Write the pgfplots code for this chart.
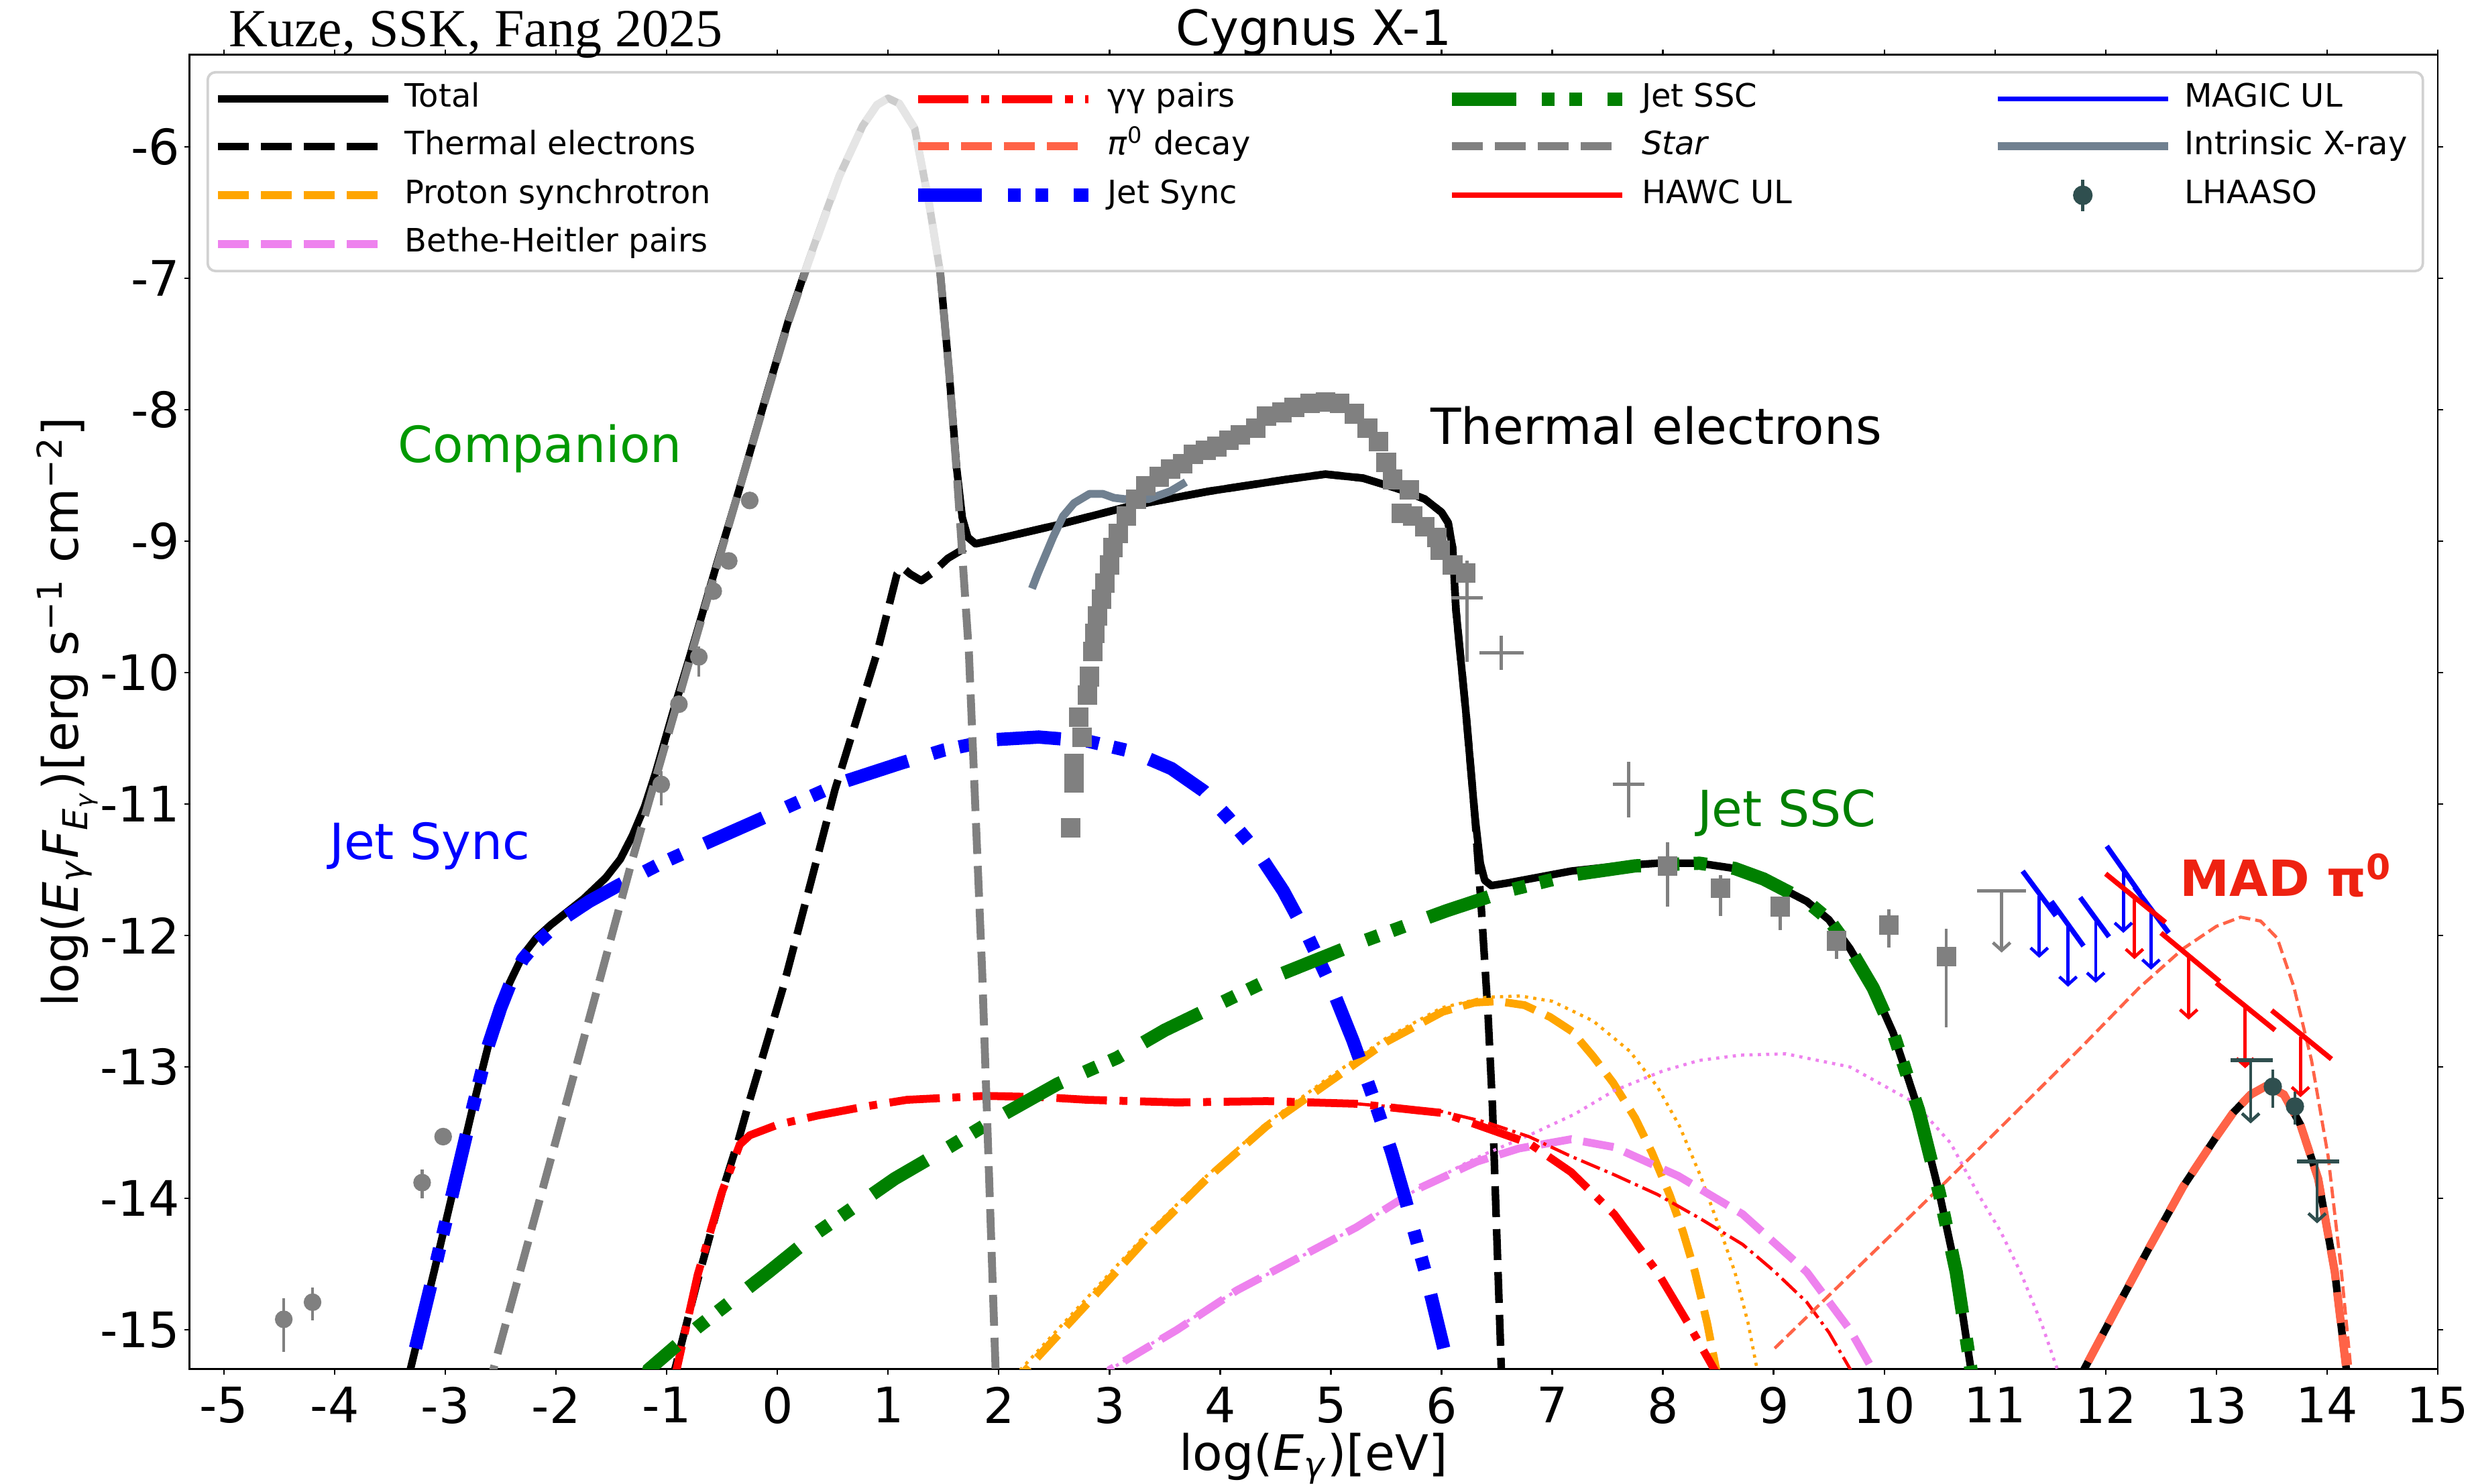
\documentclass[border=0pt]{standalone}
\usepackage{fontspec}
\setmainfont{DejaVu Sans}
\newfontfamily\kuzefont{Liberation Serif}
\usepackage{pgfplots}
\pgfplotsset{compat=1.18}
\usetikzlibrary{arrows.meta}
\definecolor{cTomato}{HTML}{FF6347}
\definecolor{cOrange}{HTML}{FFA500}
\definecolor{cViolet}{HTML}{EE82EE}
\definecolor{cGreen}{HTML}{008000}
\definecolor{cGray}{HTML}{808080}
\definecolor{cSlate}{HTML}{708090}
\definecolor{cDSlate}{HTML}{2F4F4F}
\definecolor{cComp}{HTML}{009900}
\definecolor{cMAD}{HTML}{EE2211}
\definecolor{cRed}{HTML}{FF0000}
\definecolor{cBlue}{HTML}{0000FF}
\tikzset{
  sTotal/.style={black, line width=2.4pt, line join=round},
  sTherm/.style={black, line width=2.4pt, line join=round, dash pattern=on 9.8pt off 3.8pt},
  sProton/.style={cOrange, line width=2.5pt, dash pattern=on 9.8pt off 3.8pt},
  sBH/.style={cViolet, line width=2.5pt, dash pattern=on 9.8pt off 3.8pt},
  sGG/.style={cRed, line width=2.5pt, dash pattern=on 16pt off 4pt on 2.5pt off 4pt},
  sPi/.style={cTomato, line width=2.6pt, dash pattern=on 9.8pt off 3.8pt},
  sJS/.style={cBlue, line width=4.2pt, dash pattern=on 20.3pt off 8.1pt on 4.1pt off 4.6pt on 4.1pt off 8.1pt},
  sSSC/.style={cGreen, line width=4.2pt, dash pattern=on 20.3pt off 8.1pt on 4.1pt off 4.6pt on 4.1pt off 8.1pt},
  sStar/.style={cGray, line width=2.5pt, dash pattern=on 9.8pt off 3.8pt},
  sHAWC/.style={cRed, line width=1.6pt},
  sMAGIC/.style={cBlue, line width=1.6pt},
  sXray/.style={cSlate, line width=2.5pt, line join=round},
  thinPi/.style={cTomato, line width=1pt, dash pattern=on 3.7pt off 1.6pt},
  thinOr/.style={cOrange, line width=1pt, dash pattern=on 1pt off 1.65pt},
  thinVi/.style={cViolet, line width=1pt, dash pattern=on 1pt off 1.65pt},
  thinGG/.style={cRed, line width=1pt, dash pattern=on 6.4pt off 1.6pt on 1pt off 1.6pt},
  arr/.style={-{Straight Barb[length=2.5pt,width=5.5pt]}, line width=1.0pt},
}
\begin{document}
\begin{tikzpicture}
\begin{axis}[name=ax, scale only axis, width=712.3pt, height=416.5pt,
  xmin=-5.31, xmax=15, ymin=-15.30, ymax=-5.30,
  xtick={-5,-4,-3,-2,-1,0,1,2,3,4,5,6,7,8,9,10,11,12,13,14,15},
  xticklabels={-5,-4,-3,-2,-1,0,1,2,3,4,5,6,7,8,9,10,11,12,13,14,15},
  ytick={-15,-14,-13,-12,-11,-10,-9,-8,-7,-6},
  yticklabels={-15,-14,-13,-12,-11,-10,-9,-8,-7,-6},
  tick align=outside, major tick length=1.7pt,
  tick style={black, line width=0.5pt},
  axis line style={line width=0.6pt},
  ticklabel style={font=\fontsize{15.5}{18}\selectfont},
  xticklabel style={inner sep=0pt, anchor=north, yshift=-3.8pt},
  yticklabel style={inner sep=0pt, anchor=east, xshift=-1.2pt},
  every axis x label/.style={at={(rel axis cs:0.5,0)}, anchor=base, yshift=-32pt, font=\fontsize{15.5}{18}\selectfont},
  every axis y label/.style={at={(rel axis cs:0,0.5)}, xshift=-35.3pt, rotate=90, anchor=base, font=\fontsize{15.5}{18}\selectfont},
  xlabel={log(\textit{E}\textsubscript{\textit{γ}})[eV]},
  ylabel={log(\textit{E}\textsubscript{\textit{γ}}\textit{F}\textsubscript{\textit{E}\textsubscript{\textit{γ}}})[erg s\textsuperscript{−1} cm\textsuperscript{−2}]},
  title={Cygnus X-1},
  every axis title/.style={at={(rel axis cs:0.5,1)}, anchor=base, yshift=3pt, font=\fontsize{15.4}{18}\selectfont},
  legend columns=4,
  legend cell align=left,
  legend image code/.code={\draw[#1] (0pt,0pt) -- (54pt,0pt);},
  legend style={at={(rel axis cs:0,1)}, anchor=north west, xshift=5.3pt, yshift=-5.1pt,
    fill=white, fill opacity=0.8, draw opacity=1, text opacity=1, draw=black!18, line width=0.8pt,
    rounded corners=2.5pt, inner xsep=2pt, inner ysep=3.5pt, row sep=5pt,
    font=\fontsize{10.2}{12}\selectfont,
    nodes={inner sep=0pt, text height=7.5pt, text depth=2.5pt},
    /tikz/every odd column/.append style={column sep=4pt}},
  unbounded coords=jump,
]
% ---------------- Total ----------------
\addplot[sTotal, forget plot] coordinates {(-3.36,-15.45) (-3.31,-15.28) (-3.10,-14.55) (-2.89,-13.80) (-2.75,-13.30) (-2.61,-12.83) (-2.50,-12.55) (-2.42,-12.36) (-2.30,-12.15) (-2.18,-12.02) (-2.05,-11.92) (-1.93,-11.84) (-1.75,-11.72) (-1.55,-11.56) (-1.42,-11.42) (-1.31,-11.24) (-1.20,-11.02) (-1.10,-10.76) (-0.94,-10.29) (-0.80,-9.90) (-0.73,-9.70) (-0.55,-9.18) (-0.35,-8.62) (-0.09,-7.86) (0.10,-7.32) (0.28,-6.87) (0.45,-6.47) (0.56,-6.22) (0.77,-5.84) (0.90,-5.68) (1.00,-5.63) (1.10,-5.67) (1.24,-5.86) (1.37,-6.43) (1.47,-6.95) (1.55,-7.70) (1.62,-8.45) (1.67,-8.82) (1.72,-8.97) (1.79,-9.02) (2.00,-8.98) (2.51,-8.88) (3.20,-8.73) (3.90,-8.62) (4.60,-8.53) (4.95,-8.49) (5.29,-8.52) (5.64,-8.61) (5.85,-8.68) (6.00,-8.78) (6.06,-8.86) (6.10,-9.05) (6.13,-9.52) (6.22,-10.30) (6.30,-11.08) (6.35,-11.45) (6.39,-11.58) (6.45,-11.62) (6.60,-11.60) (7.17,-11.51) (7.60,-11.47) (7.95,-11.45) (8.33,-11.45) (8.65,-11.49) (8.91,-11.57) (9.30,-11.74) (9.50,-11.88) (9.69,-12.10) (9.90,-12.40) (10.08,-12.74) (10.31,-13.33) (10.50,-13.97) (10.65,-14.56) (10.79,-15.34) (10.83,-15.50)};
\addplot[sTotal, forget plot] coordinates {(11.72,-15.55) (11.78,-15.34) (12.09,-14.85) (12.39,-14.38) (12.70,-13.91) (13.00,-13.53) (13.15,-13.35) (13.31,-13.21) (13.46,-13.14) (13.61,-13.21) (13.76,-13.44) (13.92,-13.85) (14.07,-14.56) (14.18,-15.34) (14.22,-15.55)};
% ---------------- Thermal electrons ----------------
\addplot[sTherm, forget plot] coordinates {(-0.97,-15.45) (-0.92,-15.28) (-0.72,-14.62) (-0.50,-13.95) (-0.35,-13.55) (-0.26,-13.28) (0.05,-12.40) (0.30,-11.60) (0.52,-10.89) (0.90,-9.85) (1.02,-9.45) (1.08,-9.25) (1.13,-9.20) (1.20,-9.25) (1.30,-9.30) (1.40,-9.24) (1.54,-9.13) (1.70,-9.05) (1.79,-9.02) (2.00,-8.98) (2.51,-8.88) (3.20,-8.73) (3.90,-8.62) (4.60,-8.53) (4.95,-8.49) (5.29,-8.52) (5.64,-8.61) (5.85,-8.68) (6.00,-8.78) (6.06,-8.86) (6.10,-9.05) (6.13,-9.52) (6.22,-10.30) (6.30,-11.08) (6.36,-11.80) (6.42,-12.60) (6.46,-13.30) (6.50,-14.30) (6.54,-15.30) (6.55,-15.50)};
% ---------------- Proton synchrotron ----------------
\addplot[sProton, forget plot] coordinates {(2.18,-15.5) (2.25,-15.3) (2.80,-14.80) (3.34,-14.30) (3.88,-13.85) (4.42,-13.45) (4.96,-13.13) (5.50,-12.81) (6.01,-12.58) (6.30,-12.51) (6.51,-12.50) (6.75,-12.53) (6.98,-12.62) (7.18,-12.73) (7.37,-12.92) (7.55,-13.12) (7.75,-13.39) (7.90,-13.65) (8.06,-13.97) (8.18,-14.25) (8.29,-14.56) (8.40,-14.95) (8.49,-15.34) (8.52,-15.5)};
\addplot[thinOr, forget plot] coordinates {(2.18,-15.5) (2.20,-15.3) (2.75,-14.80) (3.30,-14.30) (3.85,-13.85) (4.40,-13.44) (4.95,-13.10) (5.50,-12.78) (6.00,-12.55) (6.40,-12.47) (6.71,-12.46) (7.00,-12.50) (7.37,-12.65) (7.70,-12.88) (7.95,-13.15) (8.15,-13.45) (8.34,-13.83) (8.50,-14.20) (8.65,-14.56) (8.77,-14.95) (8.86,-15.34) (8.90,-15.5)};
% ---------------- Bethe-Heitler ----------------
\addplot[sBH, forget plot] coordinates {(2.95,-15.5) (3.01,-15.3) (3.61,-15.0) (4.15,-14.70) (4.69,-14.46) (5.23,-14.22) (5.78,-13.93) (6.32,-13.72) (6.70,-13.62) (7.17,-13.55) (7.56,-13.61) (8.14,-13.83) (8.72,-14.12) (9.30,-14.56) (9.69,-15.0) (9.92,-15.34) (9.96,-15.5)};
\addplot[thinVi, forget plot] coordinates {(2.95,-15.5) (3.01,-15.3) (4.15,-14.70) (5.23,-14.22) (5.78,-13.93) (6.20,-13.74) (6.40,-13.66) (6.79,-13.52) (7.20,-13.36) (7.56,-13.18) (8.00,-13.03) (8.33,-12.95) (8.70,-12.91) (9.11,-12.90) (9.69,-13.00) (10.27,-13.27) (10.60,-13.58) (10.85,-13.97) (11.05,-14.25) (11.23,-14.56) (11.42,-14.95) (11.58,-15.34) (11.62,-15.5)};
% ---------------- gamma gamma pairs ----------------
\addplot[sGG, forget plot] coordinates {(-0.96,-15.5) (-0.91,-15.3) (-0.72,-14.58) (-0.50,-13.95) (-0.34,-13.59) (-0.25,-13.52) (0.00,-13.44) (0.36,-13.37) (0.80,-13.30) (1.17,-13.25) (1.88,-13.22) (2.40,-13.23) (2.80,-13.25) (3.61,-13.27) (4.42,-13.26) (5.23,-13.28) (5.78,-13.33) (6.01,-13.35) (6.32,-13.44) (6.79,-13.58) (7.17,-13.80) (7.56,-14.12) (7.95,-14.56) (8.22,-14.94) (8.49,-15.34) (8.52,-15.5)};
\addplot[thinGG, forget plot] coordinates {(5.23,-13.28) (5.78,-13.32) (6.01,-13.34) (6.40,-13.42) (6.79,-13.53) (7.17,-13.68) (7.56,-13.82) (7.95,-13.97) (8.33,-14.15) (8.72,-14.35) (9.00,-14.55) (9.30,-14.79) (9.50,-15.02) (9.72,-15.34) (9.76,-15.5)};
% ---------------- pi0 decay ----------------
\addplot[thinPi, forget plot] coordinates {(9.01,-15.14) (10.56,-13.87) (11.78,-12.85) (12.30,-12.40) (12.70,-12.10) (13.00,-11.93) (13.22,-11.86) (13.40,-11.89) (13.55,-12.02) (13.70,-12.39) (13.86,-12.95) (14.01,-13.68) (14.13,-14.56) (14.22,-15.34) (14.24,-15.5)};
\addplot[sPi, forget plot] coordinates {(11.72,-15.55) (11.78,-15.34) (12.09,-14.85) (12.39,-14.38) (12.70,-13.91) (13.00,-13.53) (13.15,-13.35) (13.31,-13.21) (13.46,-13.14) (13.61,-13.21) (13.76,-13.44) (13.92,-13.85) (14.07,-14.56) (14.18,-15.34) (14.22,-15.55)};
% ---------------- Jet Sync ----------------
\addplot[sJS, forget plot] coordinates {(-3.27,-15.14) (-3.10,-14.55) (-2.89,-13.80) (-2.75,-13.30) (-2.61,-12.83) (-2.50,-12.55) (-2.42,-12.38) (-2.30,-12.18) (-2.18,-12.06) (-1.95,-11.88) (-1.70,-11.74) (-1.44,-11.62) (-1.05,-11.45) (-0.68,-11.31) (-0.17,-11.12) (0.20,-10.98) (0.60,-10.83) (1.11,-10.69) (1.50,-10.59) (1.96,-10.51) (2.36,-10.49) (2.80,-10.52) (3.20,-10.60) (3.56,-10.73) (3.85,-10.90) (4.07,-11.10) (4.35,-11.38) (4.57,-11.66) (4.80,-12.02) (5.00,-12.38) (5.20,-12.80) (5.39,-13.25) (5.55,-13.65) (5.67,-14.00) (5.85,-14.55) (6.02,-15.14)};
% ---------------- Jet SSC ----------------
\addplot[sSSC, forget plot] coordinates {(-1.22,-15.5) (-1.16,-15.3) (-0.72,-14.98) (-0.08,-14.56) (0.36,-14.26) (1.06,-13.85) (1.55,-13.61) (1.98,-13.39) (2.53,-13.13) (3.07,-12.93) (3.50,-12.72) (3.99,-12.52) (4.53,-12.30) (5.27,-12.05) (6.05,-11.81) (6.59,-11.66) (7.17,-11.54) (7.75,-11.47) (8.33,-11.45) (8.65,-11.49) (8.91,-11.57) (9.30,-11.74) (9.50,-11.88) (9.69,-12.10) (9.90,-12.40) (10.08,-12.74) (10.31,-13.33) (10.50,-13.97) (10.65,-14.56) (10.79,-15.34) (10.83,-15.5)};
% ---------------- Star ----------------
\addplot[sStar, forget plot] coordinates {(-2.62,-15.5) (-2.56,-15.28) (-2.20,-14.17) (-1.78,-12.88) (-1.31,-11.42) (-0.73,-9.72) (-0.35,-8.62) (-0.09,-7.87) (0.10,-7.33) (0.28,-6.88) (0.45,-6.48) (0.56,-6.22) (0.77,-5.84) (0.90,-5.68) (1.00,-5.63) (1.10,-5.67) (1.24,-5.86) (1.37,-6.43) (1.47,-6.95) (1.55,-7.70) (1.62,-8.48) (1.73,-9.85) (1.85,-12.28) (1.97,-15.28) (1.98,-15.5)};
% ---------------- Intrinsic X-ray ----------------
\addplot[sXray, forget plot] coordinates {(2.30,-9.36) (2.35,-9.25) (2.40,-9.15) (2.49,-8.97) (2.58,-8.81) (2.68,-8.71) (2.82,-8.64) (2.94,-8.64) (3.04,-8.67) (3.14,-8.68) (3.35,-8.68) (3.45,-8.65) (3.55,-8.62) (3.69,-8.55)};
% ---------------- X-ray data (squares) ----------------
\addplot[only marks, mark=square*, mark size=2.9pt, color=cGray, forget plot] coordinates {(2.65,-11.18) (2.68,-10.84) (2.68,-10.69) (2.75,-10.49) (2.72,-10.34) (2.80,-10.17) (2.82,-10.03) (2.85,-9.84) (2.87,-9.70) (2.89,-9.57) (2.93,-9.44) (2.96,-9.32) (3.00,-9.18) (3.03,-9.05) (3.08,-8.94) (3.15,-8.81) (3.24,-8.68) (3.33,-8.58) (3.45,-8.51) (3.55,-8.45) (3.66,-8.41) (3.76,-8.34) (3.87,-8.31) (3.97,-8.28) (4.08,-8.23) (4.18,-8.19) (4.32,-8.14) (4.42,-8.05) (4.56,-8.02) (4.67,-7.98) (4.81,-7.95) (4.95,-7.94) (5.08,-7.95) (5.21,-8.03) (5.33,-8.14) (5.43,-8.24) (5.50,-8.40) (5.56,-8.53) (5.71,-8.61) (5.64,-8.79) (5.74,-8.81) (5.85,-8.89) (5.96,-8.97) (5.99,-9.07) (6.10,-9.18) (6.22,-9.24)};
% ---------------- low energy data (circles) ----------------
\addplot[only marks, mark=*, mark size=2.6pt, color=cGray, forget plot,
  error bars/.cd, y dir=both, y explicit, error mark=none, error bar style={line width=1pt, cGray}] coordinates {
  (-4.46,-14.92) += (0,0.16) -= (0,0.25)
  (-4.20,-14.79) += (0,0.11) -= (0,0.14)
  (-3.21,-13.88) += (0,0.10) -= (0,0.12)
  (-3.02,-13.53) += (0,0.03) -= (0,0.03)
  (-1.05,-10.85) += (0,0.10) -= (0,0.16)
  (-0.89,-10.24) += (0,0.04) -= (0,0.04)
  (-0.71,-9.88) += (0,0.08) -= (0,0.15)
  (-0.58,-9.38) += (0,0.04) -= (0,0.04)
  (-0.44,-9.15) += (0,0.04) -= (0,0.04)
  (-0.25,-8.69) += (0,0.04) -= (0,0.04)};
% ---------------- high energy data (squares with bars) ----------------
\addplot[only marks, mark=square*, mark size=2.9pt, color=cGray, forget plot,
  error bars/.cd, y dir=both, y explicit, error mark=none, error bar style={line width=1pt, cGray}] coordinates {
  (8.04,-11.47) += (0,0.18) -= (0,0.31)
  (8.52,-11.64) += (0,0.10) -= (0,0.21)
  (9.06,-11.78) += (0,0.07) -= (0,0.18)
  (9.57,-12.04) += (0,0.07) -= (0,0.14)
  (10.04,-11.92) += (0,0.12) -= (0,0.17)
  (10.56,-12.16) += (0,0.21) -= (0,0.54)};
% crosses and gray UL bar
\addplot[cGray, line width=1pt, forget plot] coordinates {(6.09,-9.43) (6.37,-9.43) (nan,nan) (6.23,-9.15) (6.23,-9.92) (nan,nan) (6.34,-9.85) (6.74,-9.85) (nan,nan) (6.54,-9.72) (6.54,-9.98) (nan,nan) (7.55,-10.85) (7.83,-10.85) (nan,nan) (7.69,-10.68) (7.69,-11.10) (nan,nan) (10.84,-11.66) (11.28,-11.66)};
\addplot[cGray, arr, forget plot] coordinates {(11.06,-11.66) (11.06,-12.13)};
% ---------------- MAGIC UL ----------------
\addplot[sMAGIC, forget plot] coordinates {(11.25,-11.51) (11.55,-11.85) (nan,nan) (11.51,-11.74) (11.80,-12.08) (nan,nan) (11.77,-11.71) (12.03,-12.01) (nan,nan) (12.01,-11.32) (12.31,-11.68) (nan,nan) (12.26,-11.63) (12.57,-11.98)};
\addplot[cBlue, arr, forget plot] coordinates {(11.40,-11.70) (11.40,-12.17)};
\addplot[cBlue, arr, forget plot] coordinates {(11.66,-11.92) (11.66,-12.39)};
\addplot[cBlue, arr, forget plot] coordinates {(11.91,-11.89) (11.91,-12.36)};
\addplot[cBlue, arr, forget plot] coordinates {(12.16,-11.51) (12.16,-11.98)};
\addplot[cBlue, arr, forget plot] coordinates {(12.41,-11.81) (12.41,-12.26)};
% ---------------- HAWC UL ----------------
\addplot[sHAWC, forget plot] coordinates {(12.00,-11.53) (12.54,-11.90) (nan,nan) (12.50,-11.98) (13.03,-12.35) (nan,nan) (13.00,-12.36) (13.53,-12.72) (nan,nan) (13.50,-12.57) (14.04,-12.94)};
\addplot[cRed, arr, forget plot] coordinates {(12.26,-11.71) (12.26,-12.18)};
\addplot[cRed, arr, forget plot] coordinates {(12.75,-12.17) (12.75,-12.64)};
\addplot[cRed, arr, forget plot] coordinates {(13.26,-12.54) (13.26,-13.01)};
\addplot[cRed, arr, forget plot] coordinates {(13.76,-12.77) (13.76,-13.23)};
% ---------------- LHAASO ----------------
\addplot[cDSlate, line width=1.2pt, forget plot] coordinates {(13.13,-12.95) (13.51,-12.95) (nan,nan) (13.73,-13.72) (14.11,-13.72)};
\addplot[cDSlate, arr, forget plot] coordinates {(13.31,-12.95) (13.31,-13.43)};
\addplot[cDSlate, arr, forget plot] coordinates {(13.91,-13.72) (13.91,-14.19)};
\addplot[only marks, mark=*, mark size=2.7pt, color=cDSlate, forget plot,
  error bars/.cd, y dir=both, y explicit, error mark=none, error bar style={line width=1pt, cDSlate}] coordinates {
  (13.51,-13.15) += (0,0.13) -= (0,0.16)
  (13.71,-13.30) += (0,0.11) -= (0,0.14)};
% ---------------- annotations ----------------
\node[anchor=base, inner sep=0pt, font=\fontsize{15.8}{19}\selectfont, text=cComp] at (axis cs:-2.145,-8.40) {Companion};
\node[anchor=base, inner sep=0pt, font=\fontsize{15.8}{19}\selectfont, text=cBlue] at (axis cs:-3.14,-11.42) {Jet Sync};
\node[anchor=base, inner sep=0pt, font=\fontsize{15.8}{19}\selectfont, text=black] at (axis cs:7.94,-8.26) {Thermal electrons};
\node[anchor=base, inner sep=0pt, font=\fontsize{15.8}{19}\selectfont, text=cGreen] at (axis cs:9.12,-11.17) {Jet SSC};
\node[anchor=base, inner sep=0pt, font=\bfseries\fontsize{15.8}{19}\selectfont, text=cMAD] at (axis cs:13.63,-11.70) {MAD π\textsuperscript{0}};
% ---------------- legend ----------------
\addlegendimage{sTotal}\addlegendentry{\makebox[160.5pt][l]{Total}}
\addlegendimage{sGG}\addlegendentry{\makebox[107pt][l]{γγ pairs}}
\addlegendimage{sSSC}\addlegendentry{\makebox[111.5pt][l]{Jet SSC}}
\addlegendimage{sMAGIC}\addlegendentry{\makebox[73.5pt][l]{MAGIC UL}}
\addlegendimage{sTherm}\addlegendentry{\makebox[160.5pt][l]{Thermal electrons}}
\addlegendimage{sPi}\addlegendentry{\makebox[107pt][l]{\textit{π}\textsuperscript{0} decay}}
\addlegendimage{sStar}\addlegendentry{\makebox[111.5pt][l]{\textit{Star}}}
\addlegendimage{sXray}\addlegendentry{\makebox[73.5pt][l]{Intrinsic X-ray}}
\addlegendimage{sProton}\addlegendentry{\makebox[160.5pt][l]{Proton synchrotron}}
\addlegendimage{sJS}\addlegendentry{\makebox[107pt][l]{Jet Sync}}
\addlegendimage{sHAWC}\addlegendentry{\makebox[111.5pt][l]{HAWC UL}}
\addlegendimage{legend image code/.code={\draw[cDSlate, line width=1pt] (27pt,-5pt) -- (27pt,5pt); \fill[cDSlate, fill opacity=1] (27pt,0pt) circle (2.7pt);}}\addlegendentry{\makebox[73.5pt][l]{LHAASO}}
\addlegendimage{sBH}\addlegendentry{\makebox[160.5pt][l]{Bethe-Heitler pairs}}
\end{axis}
\node[anchor=base west, inner sep=0pt, font=\kuzefont\fontsize{17}{20}\selectfont] at ([xshift=12.3pt,yshift=2.6pt]ax.north west) {Kuze, SSK, Fang 2025};
\pgfresetboundingbox
\path[use as bounding box] ([shift={(-60.1pt,-36.3pt)}]ax.south west) rectangle ([shift={(11.5pt,17.4pt)}]ax.north east);
\end{tikzpicture}
\end{document}
